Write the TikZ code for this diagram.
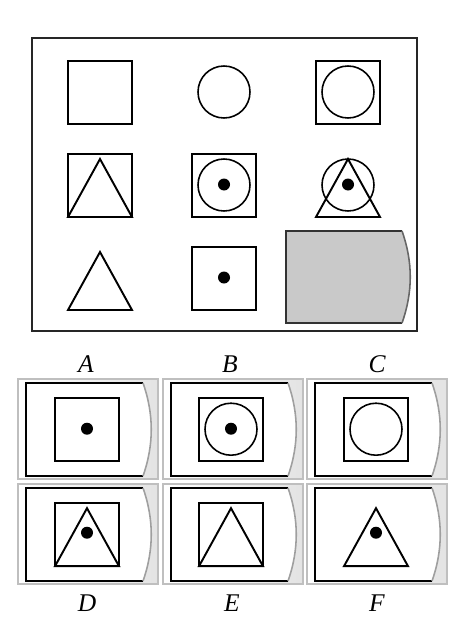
\documentclass[tikz,border=0pt]{standalone}
\usepackage{fontspec}
\setmainfont{Liberation Serif}
\begin{document}
\begin{tikzpicture}[
    x=0.02cm, y=-0.02cm,
    shape line/.style={draw=black, line width=1.1pt},
    ring line/.style={draw=black, line width=0.9pt},
    optframe/.style={draw=gray!50, line width=0.6pt, left color=white, right color=black!11},
    letter/.style={font=\fontsize{14.5}{16}\selectfont\itshape, anchor=base},
    sqr/.pic={\draw[shape line] (-32,-31.5) rectangle (32,31.5);},
    ring/.pic={\draw[ring line] (0,-0.5) circle[radius=26];},
    spot/.pic={\fill (0,-1) circle[radius=6];},
    tri/.pic={\draw[shape line] (0,-26.5) -- (32,31.5) -- (-32,31.5) -- cycle;}
]
    \useasboundingbox (0,0) rectangle (474,622);

    % Puzzle frame
    \draw[line width=0.8pt, draw=black!85] (32,38) rectangle (417,331);

    % Row 1
    \pic at (100,92.5) {sqr};
    \pic at (224,92.5) {ring};
    \pic at (348,92.5) {sqr};
    \pic at (348,92.5) {ring};

    % Row 2
    \pic at (100,185.5) {sqr};
    \pic at (100,185.5) {tri};
    \pic at (224,185.5) {sqr};
    \pic at (224,185.5) {ring};
    \pic at (224,185.5) {spot};
    \pic at (348,185.5) {ring};
    \pic at (348,185.5) {tri};
    \pic at (348,185.5) {spot};

    % Row 3
    \pic at (100,278.5) {tri};
    \pic at (224,278.5) {sqr};
    \pic at (224,278.5) {spot};
    \path[fill=black!21] (286,231) -- (402,231) .. controls (413,262) and (413,292) .. (402,323) -- (286,323) -- cycle;
    \draw[line width=1.1pt, draw=black!80] (402,231) -- (286,231) -- (286,323) -- (402,323);
    \draw[line width=0.9pt, draw=black!60] (402,231) .. controls (413,262) and (413,292) .. (402,323);

    % Answer frames
    \foreach \ox/\oy in {18/379, 163/379, 307/379, 18/484, 163/484, 307/484} {
        \begin{scope}[shift={(\ox,\oy)}]
            \draw[optframe] (0,0) rectangle (140,100);
            \path[fill=white] (8,4) -- (125,4) .. controls (136,35) and (136,66) .. (125,97) -- (8,97) -- cycle;
            \draw[shape line] (125,4) -- (8,4) -- (8,97) -- (125,97);
            \draw[draw=gray!75, line width=0.9pt] (125,4) .. controls (136,35) and (136,66) .. (125,97);
        \end{scope}
    }

    % Option A
    \pic at (87,429.7) {sqr};
    \pic at (87,429.7) {spot};
    % Option B
    \pic at (231,429.7) {sqr};
    \pic at (231,429.7) {ring};
    \pic at (231,429.7) {spot};
    % Option C
    \pic at (376,429.7) {sqr};
    \pic at (376,429.7) {ring};
    % Option D
    \pic at (87,534.7) {sqr};
    \pic at (87,534.7) {tri};
    \pic at (87,533.7) {spot};
    % Option E
    \pic at (231,534.7) {sqr};
    \pic at (231,534.7) {tri};
    % Option F
    \pic at (376,534.7) {tri};
    \pic at (376,533.7) {spot};

    % Letters
    \node[letter] (optA) at (86,372) {A};
    \node[letter] (optB) at (230,372) {B};
    \node[letter] (optC) at (377,372) {C};
    \node[letter] (optD) at (87,611) {D};
    \node[letter] (optE) at (232,611) {E};
    \node[letter] (optF) at (377,611) {F};
\end{tikzpicture}
\end{document}
